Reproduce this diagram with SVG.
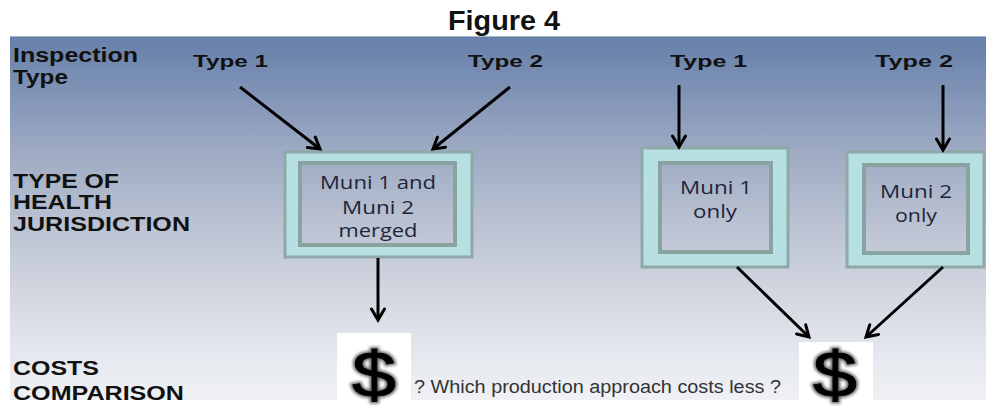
<svg xmlns="http://www.w3.org/2000/svg" width="986" height="411" viewBox="0 0 986 411">
  <defs>
    <linearGradient id="bg" gradientUnits="userSpaceOnUse" x1="0" y1="36" x2="0" y2="400">
      <stop offset="0" stop-color="#6580aa"/>
      <stop offset="0.18" stop-color="#8596b8"/>
      <stop offset="0.32" stop-color="#9eabc3"/>
      <stop offset="0.5" stop-color="#b8c0d1"/>
      <stop offset="0.7" stop-color="#d2d6e0"/>
      <stop offset="0.88" stop-color="#e5e8ee"/>
      <stop offset="1" stop-color="#eff1f5"/>
    </linearGradient>
    <filter id="glow" x="-30%" y="-30%" width="160%" height="160%">
      <feGaussianBlur stdDeviation="1.4"/>
    </filter>
    <marker id="arr" viewBox="0 0 16 16" markerWidth="16" markerHeight="16" refX="13" refY="8" orient="auto" markerUnits="userSpaceOnUse">
      <path d="M2,1.5 L13,8 L2,14.5" fill="none" stroke="#000" stroke-width="3" stroke-linecap="round" stroke-linejoin="miter"/>
    </marker>
  </defs>
  <style>
    .lbl { font-family: "Liberation Sans", Arial, sans-serif; font-weight: bold; fill: #111; }
    .row { font-size: 20px; }
    .typ { font-size: 17px; }
    .outer { fill: #b7e0e2; stroke: #8ea9a7; stroke-width: 3; }
    .inner { fill: url(#bg); stroke: #89a3a1; stroke-width: 4; }
    .box { font-family: "Open Sans", "Noto Sans", sans-serif; font-size: 18px; fill: #22253a; text-anchor: middle; }
    .conn { stroke: #000; stroke-width: 3; fill: none; marker-end: url(#arr); }
    .dollar { font-family: "Liberation Sans", Arial, sans-serif; font-size: 64px; text-anchor: middle; }
    .q { font-family: "Liberation Sans", Arial, sans-serif; font-size: 18px; fill: #333; }
  </style>

  <rect x="0" y="0" width="986" height="411" fill="#ffffff"/>
  <g id="panel">
    <rect x="10" y="36" width="976" height="364" fill="url(#bg)"/>
    <line x1="10" y1="36.5" x2="986" y2="36.5" stroke="#a7b5cb" stroke-width="1"/>
  </g>

  <g id="title">
    <text class="lbl" x="504" y="30" font-size="27" text-anchor="middle" fill="#000" textLength="112" lengthAdjust="spacingAndGlyphs">Figure 4</text>
  </g>

  <g id="row-labels">
    <text class="lbl row" x="13" y="62" textLength="125" lengthAdjust="spacingAndGlyphs">Inspection</text>
    <text class="lbl row" x="13" y="84" textLength="55" lengthAdjust="spacingAndGlyphs">Type</text>
    <text class="lbl row" x="13" y="188" textLength="106" lengthAdjust="spacingAndGlyphs">TYPE OF</text>
    <text class="lbl row" x="13" y="209" textLength="99" lengthAdjust="spacingAndGlyphs">HEALTH</text>
    <text class="lbl row" x="13" y="231" textLength="177" lengthAdjust="spacingAndGlyphs">JURISDICTION</text>
    <text class="lbl row" x="13" y="375" textLength="86" lengthAdjust="spacingAndGlyphs">COSTS</text>
    <text class="lbl row" x="13" y="400" textLength="171" lengthAdjust="spacingAndGlyphs">COMPARISON</text>
  </g>

  <g id="type1-left"><text class="lbl typ" x="193" y="67" textLength="75" lengthAdjust="spacingAndGlyphs">Type 1</text></g>
  <g id="type2-left"><text class="lbl typ" x="468" y="67" textLength="75" lengthAdjust="spacingAndGlyphs">Type 2</text></g>
  <g id="type1-right"><text class="lbl typ" x="670" y="67" textLength="77" lengthAdjust="spacingAndGlyphs">Type 1</text></g>
  <g id="type2-right"><text class="lbl typ" x="875" y="67" textLength="78" lengthAdjust="spacingAndGlyphs">Type 2</text></g>

  <g id="merged">
    <rect class="outer" x="285" y="152" width="187" height="105"/>
    <rect class="inner" x="300" y="163" width="155" height="82"/>
    <text class="box" x="378" y="189" textLength="116" lengthAdjust="spacingAndGlyphs">Muni 1 and</text>
    <text class="box" x="378" y="214" textLength="72" lengthAdjust="spacingAndGlyphs">Muni 2</text>
    <text class="box" x="378" y="237" textLength="79" lengthAdjust="spacingAndGlyphs">merged</text>
  </g>

  <g id="muni1">
    <rect class="outer" x="642" y="148" width="146" height="119"/>
    <rect class="inner" x="660" y="163" width="111" height="89"/>
    <text class="box" x="716" y="194" textLength="72" lengthAdjust="spacingAndGlyphs">Muni 1</text>
    <text class="box" x="715" y="218" textLength="44" lengthAdjust="spacingAndGlyphs">only</text>
  </g>

  <g id="muni2">
    <rect class="outer" x="847" y="152" width="137" height="115"/>
    <rect class="inner" x="864" y="165" width="104" height="88"/>
    <text class="box" x="916" y="198" textLength="72" lengthAdjust="spacingAndGlyphs">Muni 2</text>
    <text class="box" x="916" y="222" textLength="42" lengthAdjust="spacingAndGlyphs">only</text>
  </g>

  <g id="cost-merged">
    <rect x="337" y="333" width="74" height="67" fill="#ffffff"/>
    <text class="dollar" x="374" y="397" fill="none" stroke="#666" stroke-width="4" filter="url(#glow)" textLength="44" lengthAdjust="spacingAndGlyphs">$</text>
    <text class="dollar" x="374" y="397" fill="#000" stroke="#000" stroke-width="0.8" textLength="44" lengthAdjust="spacingAndGlyphs">$</text>
  </g>

  <g id="question">
    <text class="q" x="414" y="393" textLength="367" lengthAdjust="spacingAndGlyphs">? Which production approach costs less ?</text>
  </g>

  <g id="cost-separate">
    <rect x="799" y="342" width="74" height="58" fill="#ffffff"/>
    <text class="dollar" x="835" y="397" fill="none" stroke="#666" stroke-width="4" filter="url(#glow)" textLength="44" lengthAdjust="spacingAndGlyphs">$</text>
    <text class="dollar" x="835" y="397" fill="#000" stroke="#000" stroke-width="0.8" textLength="44" lengthAdjust="spacingAndGlyphs">$</text>
  </g>

  <g id="connectors">
    <line class="conn" x1="240" y1="87" x2="320" y2="149"/>
    <line class="conn" x1="510" y1="87" x2="433" y2="149"/>
    <line class="conn" x1="679" y1="85" x2="679" y2="147"/>
    <line class="conn" x1="943" y1="85" x2="943" y2="150"/>
    <line class="conn" x1="378" y1="258" x2="378" y2="320"/>
    <line class="conn" x1="737" y1="267" x2="809" y2="337"/>
    <line class="conn" x1="943" y1="267" x2="866" y2="337"/>
  </g>
</svg>
